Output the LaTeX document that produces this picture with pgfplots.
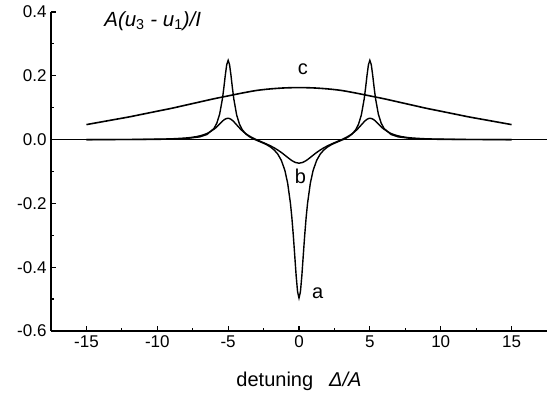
\documentclass[border=0pt]{standalone}
\usepackage{fontspec}
\setmainfont{Liberation Sans}
\usepackage{pgfplots}
\pgfplotsset{compat=1.18}
\begin{document}
\begin{tikzpicture}
\begin{axis}[
  scale only axis,
  width=496pt, height=319pt,
  xmin=-17.5, xmax=17.5, ymin=-0.6, ymax=0.4,
  axis x line*=bottom, axis y line*=left,
  axis line style={-, line width=1.7pt},
  tick align=inside,
  major tick length=5pt, minor tick length=3pt,
  every tick/.style={black, line width=1.2pt},
  xtick={-15,-10,-5,0,5,10,15},
  xticklabels={-15,-10,-5,0,5,10,15},
  minor x tick num=1,
  ytick={-0.6,-0.4,-0.2,0,0.2,0.4},
  yticklabels={-0.6,-0.4,-0.2,0.0,0.2,0.4},
  minor y tick num=1,
  tick label style={font=\fontsize{17}{20}\selectfont},
  xticklabel style={yshift=-1pt},
  yticklabel style={xshift=-1pt},
  xlabel={detuning\hspace{16pt}\textit{Δ/A}},
  xlabel style={at={(axis description cs:0.5,0)}, anchor=base, yshift=-55.7pt, font=\fontsize{20}{23}\selectfont},
  clip=false,
]
\addplot[black, line width=1.7pt] coordinates {(-17.5,0) (17.5,0)};
% curve a
\addplot[black, line width=1.4pt] coordinates {
(-15,0.0) (-12,0.0002) (-10,0.0007) (-9,0.0015) (-8,0.0032) (-7,0.0085) (-6.5,0.0158) (-6,0.0349) (-5.8,0.0514) (-5.6,0.0796) (-5.4,0.1288) (-5.3,0.1635) (-5.2,0.2020) (-5.1,0.2350) (-5,0.2485)
(-4.9,0.2347) (-4.8,0.2013) (-4.7,0.1624) (-4.6,0.1274) (-4.4,0.0773) (-4.2,0.0482) (-4,0.0308) (-3.75,0.0175) (-3.5,0.0090) (-3.25,0.0029) (-3,-0.0021) (-2.75,-0.0067) (-2.5,-0.0115) (-2.25,-0.0169) (-2,-0.0236) (-1.75,-0.0326) (-1.5,-0.0454) (-1.25,-0.0647) (-1,-0.0960) (-0.8,-0.1366) (-0.6,-0.2012) (-0.5,-0.2463) (-0.4,-0.3013) (-0.3,-0.3639) (-0.2,-0.4274) (-0.1,-0.4772)
(0,-0.4965)
(0.1,-0.4772) (0.2,-0.4274) (0.3,-0.3639) (0.4,-0.3013) (0.5,-0.2463) (0.6,-0.2012) (0.8,-0.1366) (1,-0.0960) (1.25,-0.0647) (1.5,-0.0454) (1.75,-0.0326) (2,-0.0236) (2.25,-0.0169) (2.5,-0.0115) (2.75,-0.0067) (3,-0.0021) (3.25,0.0029) (3.5,0.0090) (3.75,0.0175) (4,0.0308) (4.2,0.0482) (4.4,0.0773) (4.6,0.1274) (4.7,0.1624) (4.8,0.2013) (4.9,0.2347)
(5,0.2485) (5.1,0.2350) (5.2,0.2020) (5.3,0.1635) (5.4,0.1288) (5.6,0.0796) (5.8,0.0514) (6,0.0349) (6.5,0.0158) (7,0.0085) (8,0.0032) (9,0.0015) (10,0.0007) (12,0.0002) (15,0.0)
};
% curve b
\addplot[black, line width=1.4pt, smooth] coordinates {
(-15,0.0001) (-12,0.0004) (-11,0.0008) (-10,0.0014) (-9,0.0025) (-8,0.0050) (-7.5,0.0075) (-7,0.0116) (-6.5,0.0190) (-6,0.0324) (-5.75,0.0422) (-5.5,0.0535) (-5.25,0.0633) (-5,0.0670)
(-4.75,0.0622) (-4.5,0.0512) (-4.25,0.0387) (-4,0.0275) (-3.75,0.0184) (-3.5,0.0111) (-3.25,0.0050) (-3,-0.0002) (-2.75,-0.0050) (-2.5,-0.0097) (-2.25,-0.0146) (-2,-0.0199) (-1.75,-0.0258) (-1.5,-0.0326) (-1.25,-0.0403) (-1,-0.0488) (-0.75,-0.0577) (-0.5,-0.0659) (-0.25,-0.0718)
(0,-0.0740)
(0.25,-0.0718) (0.5,-0.0659) (0.75,-0.0577) (1,-0.0488) (1.25,-0.0403) (1.5,-0.0326) (1.75,-0.0258) (2,-0.0199) (2.25,-0.0146) (2.5,-0.0097) (2.75,-0.0050) (3,-0.0002) (3.25,0.0050) (3.5,0.0111) (3.75,0.0184) (4,0.0275) (4.25,0.0387) (4.5,0.0512) (4.75,0.0622)
(5,0.0670) (5.25,0.0633) (5.5,0.0535) (5.75,0.0422) (6,0.0324) (6.5,0.0190) (7,0.0116) (7.5,0.0075) (8,0.0050) (9,0.0025) (10,0.0014) (11,0.0008) (12,0.0004) (15,0.0001)
};
% curve c
\addplot[black, line width=1.6pt, smooth] coordinates {
(-15,0.047) (-14,0.055) (-13,0.063) (-12,0.071) (-11,0.080) (-10,0.089) (-9,0.098) (-8,0.108) (-7,0.118) (-6,0.128) (-5,0.137) (-4,0.146) (-3,0.154) (-2,0.159) (-1,0.162)
(0,0.163)
(1,0.162) (2,0.159) (3,0.154) (4,0.146) (5,0.137) (6,0.128) (7,0.118) (8,0.108) (9,0.098) (10,0.089) (11,0.080) (12,0.071) (13,0.063) (14,0.055) (15,0.047)
};
\node[anchor=base west, inner sep=0pt, font=\fontsize{20.5}{23}\selectfont\itshape] at (axis cs:-13.75,0.356) {A(u\textsubscript{\textup{3}} - u\textsubscript{\textup{1}})/I};
\node[anchor=base west, inner sep=0pt, font=\fontsize{20}{23}\selectfont] at (axis cs:0.92,-0.4975) {a};
\node[anchor=base west, inner sep=0pt, font=\fontsize{20}{23}\selectfont] at (axis cs:-0.3,-0.137) {b};
\node[anchor=base west, inner sep=0pt, font=\fontsize{20}{23}\selectfont] at (axis cs:-0.1,0.2025) {c};
\end{axis}
\pgfresetboundingbox
\path[use as bounding box] ([shift={(-51pt,-64pt)}]current axis.south west) rectangle ([shift={(4pt,12pt)}]current axis.north east);
\end{tikzpicture}
\end{document}
